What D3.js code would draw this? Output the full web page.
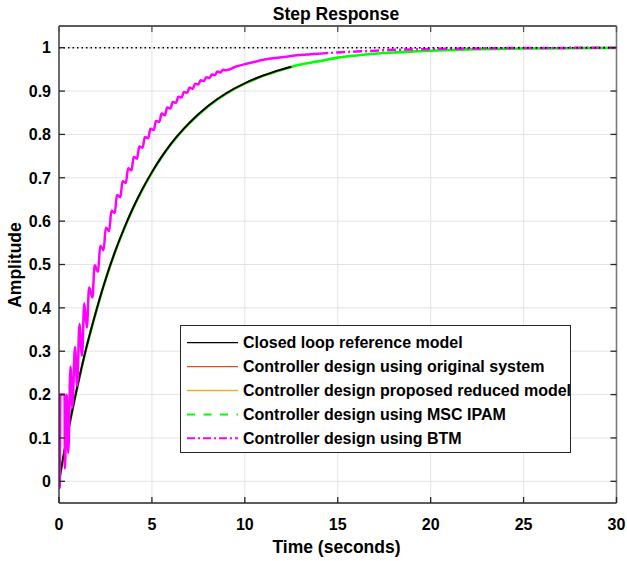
<!DOCTYPE html>
<html>
<head>
<meta charset="utf-8">
<script src="https://cdn.jsdelivr.net/npm/d3@7"></script>
<style>
  html, body { margin: 0; padding: 0; background: #fff; }
  svg text { font-family: "Liberation Sans", Arial, sans-serif; font-weight: bold; fill: #000; }
</style>
</head>
<body>
<svg id="chart" width="627" height="561"></svg>
<script>
// ---- data ----
const xTicks = [0, 5, 10, 15, 20, 25, 30];
const yTicks = [0, 0.1, 0.2, 0.3, 0.4, 0.5, 0.6, 0.7, 0.8, 0.9, 1];

const refT = [0,0.5,1,1.5,2,2.5,3,3.5,4,4.5,5,5.5,6,7,8,9,10,11,12,12.5];
const refY = [0,0.118,0.221,0.313,0.393,0.465,0.528,0.583,0.632,0.675,0.713,0.747,0.777,0.826,0.865,0.895,0.918,0.936,0.950,0.956];

const origT = [0,0.5,1,1.5,2,2.5,3,3.5,4,4.5,5,5.5,6,7,8,9,10,11,12,12.5];
const origY = [0,0.118,0.221,0.313,0.393,0.465,0.528,0.583,0.632,0.675,0.713,0.747,0.777,0.826,0.865,0.895,0.918,0.936,0.950,0.956];

const propT = [0,0.5,1,1.5,2,2.5,3,3.5,4,4.5,5,5.5,6,7,8,9,10,11,12,12.5];
const propY = [0,0.118,0.221,0.313,0.393,0.465,0.528,0.583,0.632,0.675,0.713,0.747,0.777,0.826,0.865,0.895,0.918,0.936,0.950,0.956];

const ipamT = [0,0.5,1,1.5,2,2.5,3,3.5,4,4.5,5,5.5,6,7,8,9,10,11,12,13,14,15,16,17,18,19,20,22,25,30];
const ipamY = [0,0.117,0.220,0.312,0.392,0.464,0.527,0.582,0.631,0.674,0.712,0.746,0.776,0.825,0.864,0.894,0.917,0.935,0.949,0.961,0.969,0.977,0.982,0.986,0.989,0.991,0.993,0.996,0.998,0.9995];

const btmT = [0,0.04,0.07,0.3,0.32,0.42,0.5,0.62,0.72,0.86,0.98,1.1,1.24,1.36,
  1.5,1.62,1.8,1.92,2.1,2.22,2.4,2.52,2.7,2.82,3.0,3.12,3.3,3.42,3.6,3.72,3.9,4.02,4.2,4.32,
  4.5,4.62,4.8,4.92,5.1,5.22,5.4,5.52,5.7,5.82,6.0,6.12,6.3,6.42,6.6,6.72,6.9,7.02,7.2,7.32,
  7.5,7.62,7.8,7.92,8.1,8.22,8.4,8.52,8.7,8.82,9.0,9.5,10,10.5,11,12,13,14,15,16,
  17,18,19,20,22,24,27,30];
const btmY = [0,-0.015,0.2,0.2,0.03,0.2,0.065,0.265,0.17,0.31,0.22,0.363,0.29,0.41,
  0.355,0.447,0.424,0.498,0.483,0.543,0.533,0.585,0.577,0.624,0.619,0.660,0.655,0.692,0.688,0.722,0.717,0.748,0.744,0.772,
  0.769,0.794,0.791,0.813,0.810,0.831,0.829,0.848,0.844,0.862,0.860,0.875,0.873,0.887,0.885,0.898,0.896,0.908,0.905,0.917,
  0.915,0.925,0.923,0.932,0.930,0.938,0.937,0.945,0.943,0.949,0.948,0.956,0.962,0.967,0.972,0.978,0.983,0.986,0.989,0.991,
  0.993,0.995,0.996,0.997,0.998,0.999,0.9995,1.0];

const finalValue = [1, 1];
const finalT = [0, 30];

const legendLabels = [
  "Closed loop reference model",
  "Controller design using original system",
  "Controller design proposed reduced model",
  "Controller design using MSC IPAM",
  "Controller design using BTM"
];

// ---- layout ----
const svg = d3.select("#chart");
const L = 59, R = 616.5, T = 26, B = 503;
const x = d3.scaleLinear().domain([0, 30]).range([L, R]);
const y = d3.scaleLinear().domain([-0.05, 1.05]).range([B, T]);

const zip = (a, b) => a.map((v, i) => [v, b[i]]);

// grid
const grid = svg.append("g");
grid.selectAll(".gx").data(xTicks).join("line")
  .attr("x1", d => x(d)).attr("x2", d => x(d)).attr("y1", T).attr("y2", B)
  .attr("stroke", "#e3e3e3").attr("stroke-width", 1);
grid.selectAll(".gy").data(yTicks).join("line")
  .attr("x1", L).attr("x2", R).attr("y1", d => y(d)).attr("y2", d => y(d))
  .attr("stroke", "#e3e3e3").attr("stroke-width", 1);

// clip
svg.append("clipPath").attr("id", "clip").append("rect")
  .attr("x", L).attr("y", T).attr("width", R - L).attr("height", B - T);
const plot = svg.append("g").attr("clip-path", "url(#clip)");

const line = d3.line().x(d => x(d[0])).y(d => y(d[1])).curve(d3.curveMonotoneX);

// MSC IPAM (green)
plot.append("path").datum(zip(ipamT, ipamY)).attr("d", line)
  .attr("fill", "none").attr("stroke", "#00ff00").attr("stroke-width", 2.6);
// original system (orange)
plot.append("path").datum(zip(origT, origY)).attr("d", line)
  .attr("fill", "none").attr("stroke", "#d95319").attr("stroke-width", 1.5);
// proposed reduced (yellow)
plot.append("path").datum(zip(propT, propY)).attr("d", line)
  .attr("fill", "none").attr("stroke", "#edb120").attr("stroke-width", 1.5);
// reference (black)
plot.append("path").datum(zip(refT, refY)).attr("d", line)
  .attr("fill", "none").attr("stroke", "#000").attr("stroke-width", 1.9);

// BTM (magenta): dense part solid, tail dash-dot
const btm = zip(btmT, btmY);
plot.append("path").datum(btm.filter(d => d[0] <= 14)).attr("d", line)
  .attr("fill", "none").attr("stroke", "#ff00ff").attr("stroke-width", 2.5);
plot.append("path").datum(btm.filter(d => d[0] >= 14)).attr("d", line)
  .attr("fill", "none").attr("stroke", "#ff00ff").attr("stroke-width", 2.5)
  .attr("stroke-dasharray", "9,3,2,3");

// final value dotted line
plot.append("path").datum(zip(finalT, finalValue)).attr("d", d3.line().x(d => x(d[0])).y(d => y(d[1])))
  .attr("fill", "none").attr("stroke", "#000").attr("stroke-width", 1.5)
  .attr("stroke-dasharray", "1.5,3");

// axes frame
const ax = svg.append("g");
ax.append("line").attr("x1", L).attr("x2", R).attr("y1", T).attr("y2", T).attr("stroke", "#262626").attr("stroke-width", 1.3);
ax.append("line").attr("x1", L).attr("x2", R).attr("y1", B).attr("y2", B).attr("stroke", "#262626").attr("stroke-width", 1.3);
ax.append("line").attr("x1", L).attr("x2", L).attr("y1", T).attr("y2", B).attr("stroke", "#262626").attr("stroke-width", 1.3);
ax.append("line").attr("x1", R).attr("x2", R).attr("y1", T).attr("y2", B).attr("stroke", "#7a7a7a").attr("stroke-width", 1.6);

// ticks (inside, all sides)
const tk = 6;
ax.selectAll(".tb").data(xTicks).join("line")
  .attr("x1", d => x(d)).attr("x2", d => x(d)).attr("y1", B).attr("y2", B - tk)
  .attr("stroke", "#262626").attr("stroke-width", 1.3);
ax.selectAll(".tt").data(xTicks).join("line")
  .attr("x1", d => x(d)).attr("x2", d => x(d)).attr("y1", T).attr("y2", T + tk)
  .attr("stroke", "#555").attr("stroke-width", 1.3);
ax.selectAll(".tl").data(yTicks).join("line")
  .attr("x1", L).attr("x2", L + tk).attr("y1", d => y(d)).attr("y2", d => y(d))
  .attr("stroke", "#262626").attr("stroke-width", 1.3);
ax.selectAll(".tr").data(yTicks).join("line")
  .attr("x1", R).attr("x2", R - tk).attr("y1", d => y(d)).attr("y2", d => y(d))
  .attr("stroke", "#262626").attr("stroke-width", 1.3);

// tick labels
ax.selectAll(".lx").data(xTicks).join("text")
  .attr("x", d => x(d)).attr("y", 530)
  .attr("text-anchor", "middle").style("font-size", "16px")
  .text(d => d3.format("d")(d));
ax.selectAll(".ly").data(yTicks).join("text")
  .attr("x", 51).attr("y", d => y(d)).attr("dy", "0.36em")
  .attr("text-anchor", "end").style("font-size", "16px")
  .text(d => d === 0 || d === 1 ? d3.format("d")(d) : d3.format(".1f")(d));

// titles
svg.append("text").attr("x", 336).attr("y", 20).attr("text-anchor", "middle")
  .style("font-size", "17.5px").text("Step Response");
svg.append("text").attr("x", 336.5).attr("y", 553).attr("text-anchor", "middle")
  .style("font-size", "17.5px").text("Time (seconds)");
svg.append("text").attr("transform", "translate(21,265) rotate(-90)").attr("text-anchor", "middle")
  .style("font-size", "17.5px").text("Amplitude");

// legend
const lg = svg.append("g");
lg.append("rect").attr("x", 180.5).attr("y", 325.5).attr("width", 390).attr("height", 127)
  .attr("fill", "#fff").attr("stroke", "#262626").attr("stroke-width", 1);
const legStyles = [
  { c: "#000", w: 1.3, dash: null },
  { c: "#d95319", w: 1.3, dash: null },
  { c: "#edb120", w: 1.3, dash: null },
  { c: "#00ff00", w: 2, dash: "8,8.5" },
  { c: "#ff00ff", w: 2, dash: "8,3,2,3" }
];
const rows = lg.selectAll(".row").data(legendLabels).join("g")
  .attr("transform", (d, i) => `translate(0,${342.7 + i * 23.9})`);
rows.append("line").attr("x1", 187).attr("x2", 238).attr("y1", 0).attr("y2", 0)
  .attr("stroke", (d, i) => legStyles[i].c).attr("stroke-width", (d, i) => legStyles[i].w)
  .attr("stroke-dasharray", (d, i) => legStyles[i].dash);
rows.append("text").attr("x", 243).attr("y", 0).attr("dy", "0.36em")
  .style("font-size", "16px").text(d => d);
</script>
</body>
</html>
